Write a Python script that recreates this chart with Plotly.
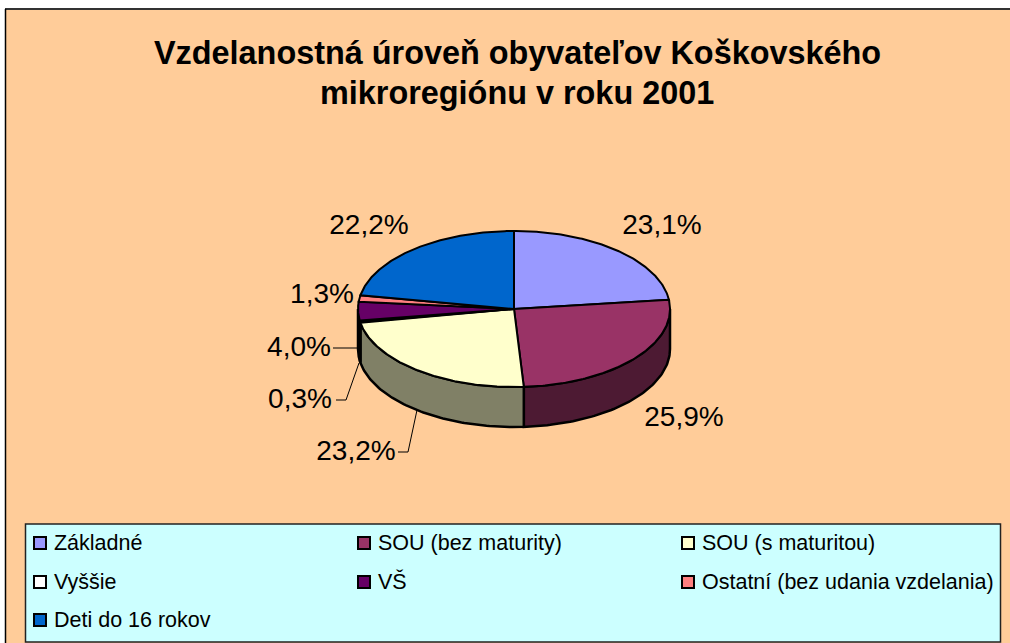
import numpy as np
import plotly.graph_objects as go

# ---- data ----
categories = ["Základné", "SOU (bez maturity)", "SOU (s maturitou)", "Vyššie", "VŠ",
              "Ostatní (bez udania vzdelania)", "Deti do 16 rokov"]
values = [23.1, 25.9, 23.2, 0.3, 4.0, 1.3, 22.2]
value_labels = ["23,1%", "25,9%", "23,2%", "0,3%", "4,0%", "1,3%", "22,2%"]
top_colors = ["#9999FF", "#993366", "#FFFFCC", "#FFFFFF", "#660066", "#FF8080", "#0066CC"]
side_colors = ["#4D4D80", "#4D1A33", "#808066", "#808080", "#330033", "#804040", "#003366"]

title_lines = ["Vzdelanostná úroveň obyvateľov Koškovského", "mikroregiónu v roku 2001"]

# ---- layout constants (pixels) ----
W, H = 1010, 643
CX, CY, RX, RY, DEPTH = 514, 309, 156, 78, 40
label_pos = [(662, 227), (684, 419), (356, 453), (300, 401), (299, 349), (322, 296), (369, 227)]
leaders = [None, None, [(398, 452), (408, 452), (417, 410)], [(336, 400), (346, 400), (359, 363)],
           [(333, 348), (358, 348)], None, None]
legend_cols = [40, 364, 688]
legend_rows = [543, 582, 620]
legend_text_shift = 1.5


def ell(t):
    return CX + RX * np.sin(t), CY - RY * np.cos(t)


fig = go.Figure()


def poly(x, y, fill, lw):
    fig.add_trace(go.Scatter(x=list(x), y=list(y), mode="lines", fill="toself", fillcolor=fill,
                             line=dict(color="black", width=lw, shape="linear"),
                             hoverinfo="skip", showlegend=False))


edges = np.deg2rad(np.concatenate([[0], np.cumsum(values)]) * 3.6)

# side walls (only the front half of the cylinder is visible)
for i in range(len(values)):
    a, b = max(edges[i], np.pi / 2), min(edges[i + 1], 3 * np.pi / 2)
    if b <= a:
        continue
    t = np.linspace(a, b, 80)
    x, y = ell(t)
    poly(np.r_[x, x[::-1], x[0]], np.r_[y, y[::-1] + DEPTH, y[0]], side_colors[i], 2.5)

# top faces
for i in range(len(values)):
    t = np.linspace(edges[i], edges[i + 1], 120)
    x, y = ell(t)
    poly(np.r_[CX, x, CX], np.r_[CY, y, CY], top_colors[i], 2)

# leader lines
for pts in leaders:
    if pts:
        fig.add_trace(go.Scatter(x=[p[0] for p in pts], y=[p[1] for p in pts], mode="lines",
                                 line=dict(color="black", width=1), hoverinfo="skip", showlegend=False))

# value labels
fig.add_trace(go.Scatter(x=[p[0] for p in label_pos], y=[p[1] for p in label_pos], mode="text",
                         text=value_labels, textposition="middle center",
                         textfont=dict(family="Liberation Sans", size=28, color="black"),
                         hoverinfo="skip", showlegend=False))

# legend
lx = [legend_cols[i % 3] for i in range(len(categories))]
ly = [legend_rows[i // 3] for i in range(len(categories))]
fig.add_trace(go.Scatter(x=lx, y=ly, mode="markers",
                         marker=dict(symbol="square", size=12, color=top_colors,
                                     line=dict(color="black", width=2)),
                         hoverinfo="skip", showlegend=False))
fig.add_trace(go.Scatter(x=[v + 8 for v in lx], y=[v + legend_text_shift for v in ly], mode="text",
                         text=[" " + c for c in categories], textposition="middle right",
                         textfont=dict(family="Liberation Sans", size=21.5, color="black"),
                         hoverinfo="skip", showlegend=False))

shapes = [
    dict(type="rect", xref="x", yref="y", x0=5, y0=9, x1=1015, y1=650, layer="below",
         line=dict(width=0), fillcolor="#FFCC99"),
    dict(type="line", xref="x", yref="y", x0=5, y0=9, x1=1015, y1=9, layer="below",
         line=dict(color="#333333", width=2)),
    dict(type="line", xref="x", yref="y", x0=5.5, y0=9, x1=5.5, y1=650, layer="below",
         line=dict(color="black", width=1.5)),
    dict(type="rect", xref="x", yref="y", x0=25.5, y0=524, x1=1000.5, y1=642, layer="below",
         line=dict(color="#222222", width=1.5), fillcolor="#CCFFFF"),
]

annotations = [
    dict(x=517, y=y, xref="x", yref="y", text=f"<b>{s}</b>", showarrow=False,
         font=dict(family="Liberation Sans", size=32.4, color="black"))
    for s, y in zip(title_lines, [53, 93])
]

fig.update_layout(width=W, height=H, margin=dict(l=0, r=0, t=0, b=0), autosize=False,
                  paper_bgcolor="white", plot_bgcolor="white", showlegend=False,
                  xaxis=dict(range=[0, W], visible=False, fixedrange=True),
                  yaxis=dict(range=[H, 0], visible=False, fixedrange=True),
                  shapes=shapes, annotations=annotations)

fig.write_html("out.html", config=dict(displayModeBar=False),
               post_script="document.body.style.margin='0';document.body.style.overflow='hidden';")
